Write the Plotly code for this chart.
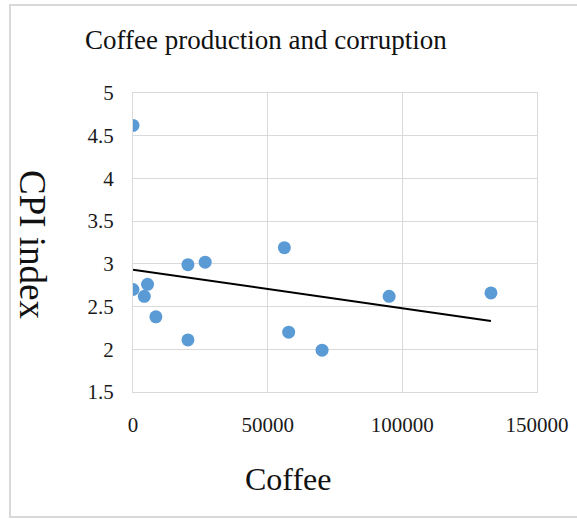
import numpy as np
import plotly.graph_objects as go

coffee = [0, 0, 4200, 5400, 8500, 20400, 26800, 20400, 56200, 57800, 70200, 95100, 132900]
cpi = [4.62, 2.70, 2.62, 2.76, 2.38, 2.99, 3.02, 2.11, 3.19, 2.20, 1.99, 2.62, 2.66]

x_ticks = [0, 50000, 100000, 150000]
y_ticks = [1.5, 2, 2.5, 3, 3.5, 4, 4.5, 5]

slope, intercept = np.polyfit(coffee, cpi, 1)
tx = np.array([min(coffee), max(coffee)])
ty = slope * tx + intercept

FONT = "Liberation Serif, Times New Roman, serif"
GRID = "#d9d9d9"

fig = go.Figure()
fig.add_trace(go.Scatter(x=coffee, y=cpi, mode="markers",
                         marker=dict(color="#5b9bd5", size=13),
                         showlegend=False, hoverinfo="skip"))
fig.add_trace(go.Scatter(x=tx, y=ty, mode="lines",
                         line=dict(color="black", width=2),
                         showlegend=False, hoverinfo="skip"))

L, R, T, B = 133, 40, 93, 127
W, H = 577, 519
pw, ph = W - L - R, H - T - B

def px(x):
    return (x - L) / pw

def py(y):
    return (H - B - y) / ph

fig.update_layout(
    width=W, height=H,
    margin=dict(l=L, r=R, t=T, b=B, autoexpand=False),
    paper_bgcolor="white", plot_bgcolor="white",
    font=dict(family=FONT, color="#222222"),
    xaxis=dict(range=[0, 150000], tickvals=x_ticks, tickformat="d",
               automargin=False,
               showgrid=True, gridcolor=GRID, gridwidth=1,
               showline=True, linecolor=GRID, linewidth=1, mirror=True,
               zeroline=False, ticks="", ticklabelstandoff=14,
               tickfont=dict(family=FONT, size=21, color="#1a1a1a")),
    yaxis=dict(range=[1.5, 5], tickvals=y_ticks,
               automargin=False,
               showgrid=True, gridcolor=GRID, gridwidth=1,
               showline=True, linecolor=GRID, linewidth=1, mirror=True,
               zeroline=False, ticks="", ticklabelstandoff=14,
               tickfont=dict(family=FONT, size=21, color="#1a1a1a")),
    shapes=[dict(type="rect", xref="paper", yref="paper",
                 x0=px(10), x1=px(580), y0=py(517), y1=py(5),
                 line=dict(color=GRID, width=2), layer="below")],
    annotations=[
        dict(text="Coffee production and corruption", xref="paper", yref="paper",
             x=px(266), y=py(40), showarrow=False, xanchor="center", yanchor="middle",
             font=dict(family=FONT, size=27, color="#111111")),
        dict(text="Coffee", xref="paper", yref="paper",
             x=px(288), y=py(479), showarrow=False, xanchor="center", yanchor="middle",
             font=dict(family=FONT, size=32, color="#111111")),
        dict(text="CPI index", xref="paper", yref="paper", textangle=90,
             x=px(33), y=py(245), showarrow=False, xanchor="center", yanchor="middle",
             font=dict(family=FONT, size=37, color="#111111")),
    ],
)

fig.write_html("out.html")
